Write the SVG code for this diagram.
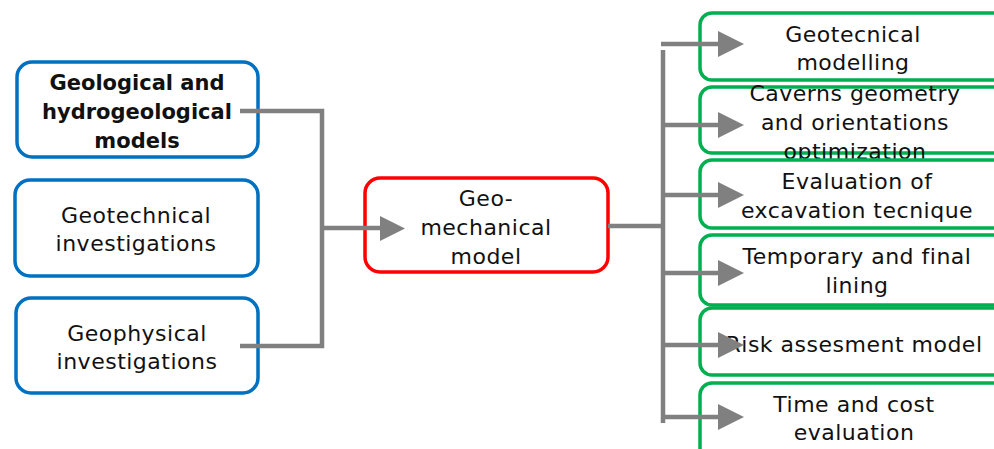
<svg xmlns="http://www.w3.org/2000/svg" width="994" height="449" viewBox="0 0 994 449">
  <style>
    .src { fill: #ffffff; stroke: #0070C0; stroke-width: 3.5; }
    .core { fill: #ffffff; stroke: #FF0000; stroke-width: 3.5; }
    .out { fill: #ffffff; stroke: #00B050; stroke-width: 3.5; }
    text { font-family: "DejaVu Sans", "Liberation Sans", sans-serif; font-size: 22px; letter-spacing: 0.5px; fill: #111111; text-anchor: middle; }
    .bold { font-weight: bold; font-size: 21px; letter-spacing: 0; }
    .wire { fill: none; stroke: #808080; stroke-width: 4.5; stroke-linejoin: miter; }
    .head { fill: #808080; }
  </style>

  <!-- input nodes -->
  <g id="geological-models">
    <rect class="src" x="17" y="62" width="241" height="95" rx="15"/>
    <text class="bold" x="137" y="90">Geological and</text>
    <text class="bold" x="137" y="119">hydrogeological</text>
    <text class="bold" x="137" y="148">models</text>
  </g>
  <g id="geotechnical-investigations">
    <rect class="src" x="15" y="180" width="243" height="96" rx="15"/>
    <text x="136" y="223">Geotechnical</text>
    <text x="136" y="251">investigations</text>
  </g>
  <g id="geophysical-investigations">
    <rect class="src" x="16" y="298" width="242" height="95" rx="15"/>
    <text x="137" y="341">Geophysical</text>
    <text x="137" y="369">investigations</text>
  </g>

  <!-- central node -->
  <g id="geomechanical-model">
    <rect class="core" x="365" y="178" width="243" height="94" rx="15"/>
    <text x="486" y="206">Geo-</text>
    <text x="486" y="235">mechanical</text>
    <text x="486" y="264">model</text>
  </g>

  <!-- output nodes -->
  <g id="geotecnical-modelling">
    <rect class="out" x="700" y="13" width="320" height="67" rx="12"/>
    <text x="853" y="42">Geotecnical</text>
    <text x="853" y="70">modelling</text>
  </g>
  <g id="caverns-geometry">
    <rect class="out" x="700" y="87" width="320" height="66" rx="12"/>
    <text x="855" y="101">Caverns geometry</text>
    <text x="855" y="130">and orientations</text>
    <text x="855" y="159">optimization</text>
  </g>
  <g id="excavation-technique">
    <rect class="out" x="700" y="160" width="320" height="68" rx="12"/>
    <text x="857" y="189">Evaluation of</text>
    <text x="857" y="218">excavation tecnique</text>
  </g>
  <g id="lining">
    <rect class="out" x="700" y="235" width="320" height="70" rx="12"/>
    <text x="857" y="264">Temporary and final</text>
    <text x="857" y="293">lining</text>
  </g>
  <g id="risk-assessment">
    <rect class="out" x="700" y="308" width="320" height="67" rx="12"/>
    <text x="854" y="352">Risk assesment model</text>
  </g>
  <g id="time-cost">
    <rect class="out" x="700" y="383" width="320" height="90" rx="12"/>
    <text x="854" y="412">Time and cost</text>
    <text x="854" y="440">evaluation</text>
  </g>

  <!-- connectors -->
  <g id="connectors">
    <path class="wire" d="M240,111 H322 V346 H240"/>
    <path class="wire" d="M322,228 H384"/>
    <polygon class="head" points="380,216 405,228.5 380,241"/>

    <path class="wire" d="M608,226 H662"/>
    <path class="wire" d="M663,50 V423"/>
    <path class="wire" d="M661,44 H722"/>
    <path class="wire" d="M663,125 H722"/>
    <path class="wire" d="M663,195 H722"/>
    <path class="wire" d="M663,273 H722"/>
    <path class="wire" d="M663,345 H722"/>
    <path class="wire" d="M663,417 H722"/>
    <polygon class="head" points="718,31 744,44 718,57"/>
    <polygon class="head" points="718,112 744,125 718,138"/>
    <polygon class="head" points="718,182 744,195 718,208"/>
    <polygon class="head" points="718,260 744,273 718,286"/>
    <polygon class="head" points="718,332 744,345 718,358"/>
    <polygon class="head" points="718,404 744,417 718,430"/>
  </g>
</svg>
